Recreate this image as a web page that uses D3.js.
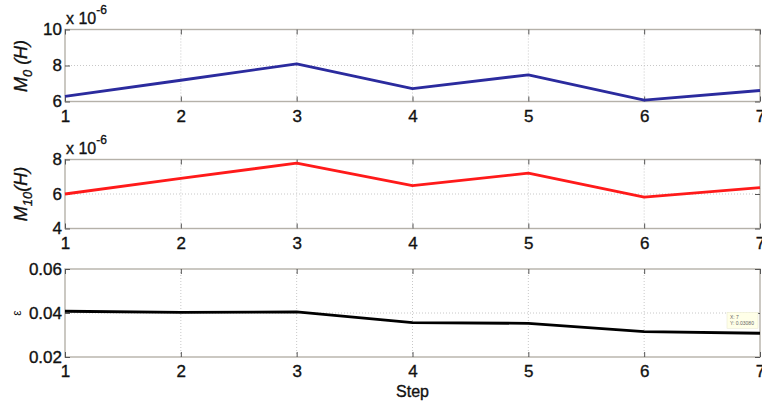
<!DOCTYPE html>
<html>
<head>
<meta charset="utf-8">
<script src="https://cdn.jsdelivr.net/npm/d3@7"></script>
<style>
  body { margin: 0; background: #fff; }
  svg { display: block; font-family: "Liberation Sans", Arial, sans-serif; }
  .lbl { fill: #111; stroke: #111; stroke-width: 0.35px; }
</style>
</head>
<body>
<svg id="chart" width="762" height="402"></svg>
<script>
// data
const steps = [1, 2, 3, 4, 5, 6, 7];
const m0 = [6.28, 7.18, 8.09, 6.72, 7.48, 6.08, 6.61];      // x 1e-6 H
const m10 = [6.0, 6.9, 7.79, 6.48, 7.21, 5.82, 6.37];       // x 1e-6 H
const eps = [0.0408, 0.0403, 0.0405, 0.0356, 0.0353, 0.0315, 0.0308];

const m0Ticks = [6, 8, 10];
const m10Ticks = [4, 6, 8];
const epsTicks = [0.02, 0.04, 0.06];

const svg = d3.select('#chart');
const FRAME = '#b5b1a9';
const GRID = '#c8c8c8';

const x = d3.scaleLinear().domain([1, 7]).range([65, 760]);

const panels = [
  { values: m0, ticks: m0Ticks, domain: [6, 10], top: 29.5, bottom: 101.5, color: '#2b2b9e', fmt: d3.format('d'), exp: true },
  { values: m10, ticks: m10Ticks, domain: [4, 8], top: 159.5, bottom: 228.5, color: '#ff1a1a', fmt: d3.format('d'), exp: true },
  { values: eps, ticks: epsTicks, domain: [0.02, 0.06], top: 269, bottom: 357, color: '#000', fmt: d3.format('.2f'), exp: false },
];

panels.forEach((p) => {
  const y = d3.scaleLinear().domain(p.domain).range([p.bottom, p.top]);
  const g = svg.append('g');

  // dotted grid
  g.selectAll('.vgrid').data(steps.slice(1, -1)).enter().append('line')
    .attr('x1', d => x(d)).attr('x2', d => x(d))
    .attr('y1', p.top).attr('y2', p.bottom)
    .attr('stroke', GRID).attr('stroke-dasharray', '1,2');
  g.selectAll('.hgrid').data(p.ticks.slice(1, -1)).enter().append('line')
    .attr('x1', x(1)).attr('x2', x(7))
    .attr('y1', d => y(d)).attr('y2', d => y(d))
    .attr('stroke', GRID).attr('stroke-dasharray', '1,2');

  // frame
  g.append('rect')
    .attr('x', x(1)).attr('y', p.top)
    .attr('width', x(7) - x(1)).attr('height', p.bottom - p.top)
    .attr('fill', 'none').attr('stroke', FRAME).attr('stroke-width', 1.4);

  // inward ticks
  const xb = d3.axisBottom(x).tickValues(steps).tickSize(-5).tickPadding(8).tickFormat(d3.format('d'));
  const xt = d3.axisTop(x).tickValues(steps).tickSize(-5).tickFormat('');
  const yl = d3.axisLeft(y).tickValues(p.ticks).tickSize(-5).tickPadding(3).tickFormat(p.fmt);
  const yr = d3.axisRight(y).tickValues(p.ticks).tickSize(-5).tickFormat('');

  [[xb, `translate(0,${p.bottom})`], [xt, `translate(0,${p.top})`],
   [yl, `translate(${x(1)},0)`], [yr, `translate(${x(7)},0)`]].forEach(([ax, tr]) => {
    const a = g.append('g').attr('transform', tr).call(ax);
    a.select('.domain').remove();
    a.selectAll('line').attr('stroke', '#555');
    a.selectAll('text')
      .attr('class', 'lbl')
      .style('font-size', '17px')
      .style('font-family', '"Liberation Sans", Arial, sans-serif');
  });

  // line
  const line = d3.line().x((d, i) => x(steps[i])).y(d => y(d));
  g.append('path')
    .datum(p.values)
    .attr('d', line)
    .attr('fill', 'none')
    .attr('stroke', p.color)
    .attr('stroke-width', 2.8)
    .attr('stroke-linejoin', 'round');

  if (p.exp) {
    const t = g.append('text')
      .attr('class', 'lbl')
      .attr('x', x(1) + 1).attr('y', p.top - 6)
      .style('font-size', '16px');
    t.append('tspan').text('x 10');
    t.append('tspan').attr('dy', -10).style('font-size', '12px').text('-6');
  }
});

// y-axis labels
const lab0 = svg.append('text')
  .attr('class', 'lbl')
  .attr('transform', 'translate(27,66) rotate(-90)')
  .attr('text-anchor', 'middle')
  .style('font-size', '18px');
lab0.append('tspan').style('font-style', 'italic').text('M');
lab0.append('tspan').attr('dy', 5).style('font-size', '13px').style('font-style', 'italic').text('0');
lab0.append('tspan').attr('dy', -5).style('font-style', 'italic').text(' (H)');

const lab10 = svg.append('text')
  .attr('class', 'lbl')
  .attr('transform', 'translate(27,194) rotate(-90)')
  .attr('text-anchor', 'middle')
  .style('font-size', '18px');
lab10.append('tspan').style('font-style', 'italic').text('M');
lab10.append('tspan').attr('dy', 5).style('font-size', '13px').style('font-style', 'italic').text('10');
lab10.append('tspan').attr('dy', -5).style('font-style', 'italic').text('(H)');

svg.append('text')
  .attr('transform', 'translate(21,313) rotate(-90)')
  .attr('text-anchor', 'middle').attr('fill', '#111')
  .style('font-size', '12px')
  .text('ε');

svg.append('text')
  .attr('class', 'lbl')
  .attr('x', x(4)).attr('y', 397)
  .attr('text-anchor', 'middle')
  .style('font-size', '16px')
  .text('Step');

// data tip at last point
const tipY = d3.scaleLinear().domain([0.02, 0.06]).range([357, 269]);
const tip = svg.append('g').attr('transform', `translate(${x(7) - 33},${tipY(eps[6]) - 21})`);
tip.append('rect').attr('width', 31).attr('height', 16)
  .attr('fill', '#ffffe8').attr('stroke', '#e6e6cc').attr('stroke-width', 0.5);
tip.append('text').attr('x', 3).attr('y', 6.5).style('font-size', '5px').attr('fill', '#666').text('X: 7');
tip.append('text').attr('x', 3).attr('y', 13).style('font-size', '5px').attr('fill', '#666').text(`Y: ${eps[6].toFixed(5)}`);
</script>
</body>
</html>
